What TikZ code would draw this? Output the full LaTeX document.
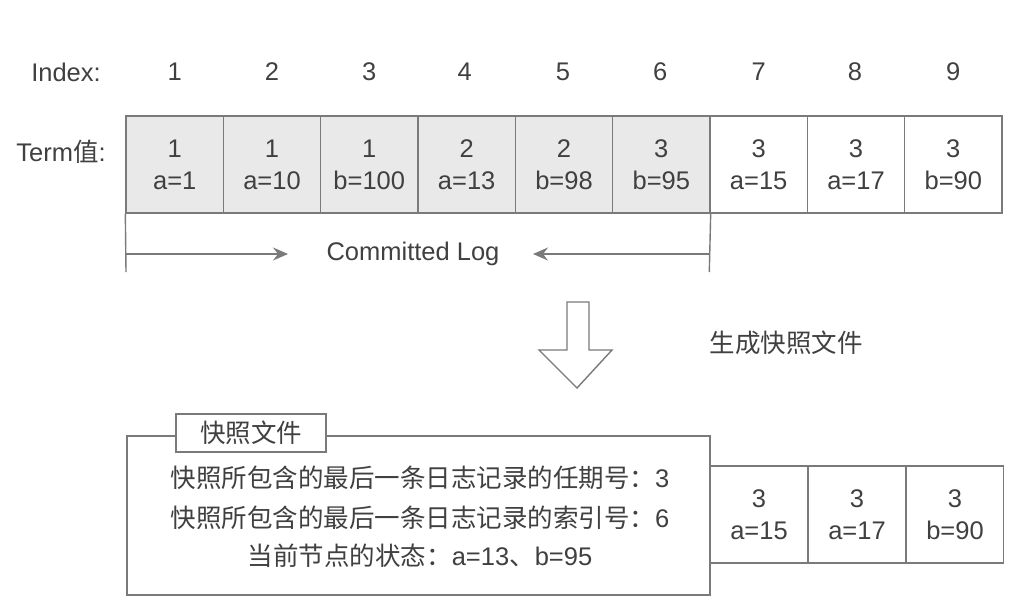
\documentclass[tikz,border=0pt]{standalone}
\usepackage{fontspec}
\setmainfont{Liberation Sans}
\newfontfamily\cjk{Noto Sans CJK SC}
\usetikzlibrary{arrows.meta}
\definecolor{txt}{HTML}{404040}
\definecolor{linec}{HTML}{7A7A7A}
\definecolor{cellgray}{HTML}{E9E9E9}
\begin{document}
\begin{tikzpicture}[x=1pt,y=-1pt,
  every node/.style={text=txt,font=\fontsize{25.5}{32}\selectfont},
  cell/.style={draw=linec,line width=1.4pt,minimum width=97.33pt,minimum height=97pt,align=center,inner sep=0pt},
  graycell/.style={cell,fill=cellgray},
  whitecell/.style={cell,fill=white},
  lbl/.style={anchor=center},
  conn/.style={draw=linec,line width=1.4pt},
  tipped/.style={conn,-{Stealth[length=15pt,width=13pt,inset=5pt]}}
]
\useasboundingbox (0,0) rectangle (1032,608);
% index row
\node[lbl] (idx) at (66,72) {Index:};
\foreach \i/\x in {1/174.7,2/272.0,3/369.3,4/464.7,5/563.0,6/660.3,7/758.7,8/855.0,9/953.3}{
  \node[lbl] (n\i) at (\x,72) {\i};
}
\node[lbl] (term) at (61,152) {Term{\cjk 值}:};
% top cells
\node[graycell] (c1) at (174.7,164.5) {1\\a=1};
\node[graycell] (c2) at (272.0,164.5) {1\\a=10};
\node[graycell] (c3) at (369.3,164.5) {1\\b=100};
\node[graycell] (c4) at (466.7,164.5) {2\\a=13};
\node[graycell] (c5) at (564.0,164.5) {2\\b=98};
\node[graycell] (c6) at (661.3,164.5) {3\\b=95};
\node[whitecell] (c7) at (758.7,164.5) {3\\a=15};
\node[whitecell] (c8) at (856.0,164.5) {3\\a=17};
\node[whitecell] (c9) at (953.3,164.5) {3\\b=90};
% committed log
\coordinate (lb) at (126,272);
\coordinate (rb) at (709.3,272);
\coordinate (la) at (126,254);
\coordinate (ra) at (709.3,254);
\coordinate (lt) at (288,254);
\coordinate (rt) at (533,254);
\draw[conn] (c1.south west) -- (lb);
\draw[conn] (c6.south east) -- (rb);
\draw[tipped] (la) -- (lt);
\draw[tipped] (ra) -- (rt);
\node[lbl] (cl) at (413,254) {Committed Log};
% block arrow
\draw[draw=linec,line width=1.4pt,fill=white,line join=miter]
  (567,302) -- (589,302) -- (589,350) -- (612,350) -- (577,388) -- (539,350) -- (567,350) -- cycle;
\node[lbl] (gen) at (786,343) {\cjk 生成快照文件};
% snapshot box
\node[draw=linec,line width=1.6pt,fill=white,minimum width=583pt,minimum height=159pt,inner sep=0pt] (snap) at (418.5,515.5) {};
\node[draw=linec,line width=1.6pt,fill=white,minimum width=150pt,minimum height=38pt,inner sep=0pt] (tab) at (251,433) {\cjk 快照文件};
\node[lbl] (s1) at (420,478) {{\cjk 快照所包含的最后一条日志记录的任期号：}3};
\node[lbl] (s2) at (420,518) {{\cjk 快照所包含的最后一条日志记录的索引号：}6};
\node[lbl] (s3) at (420,556) {{\cjk 当前节点的状态：}a=13{\cjk 、}b=95};
% bottom cells
\node[whitecell] (d7) at (759,514.5) {3\\a=15};
\node[whitecell] (d8) at (857,514.5) {3\\a=17};
\node[whitecell] (d9) at (955,514.5) {3\\b=90};
\end{tikzpicture}
\end{document}
